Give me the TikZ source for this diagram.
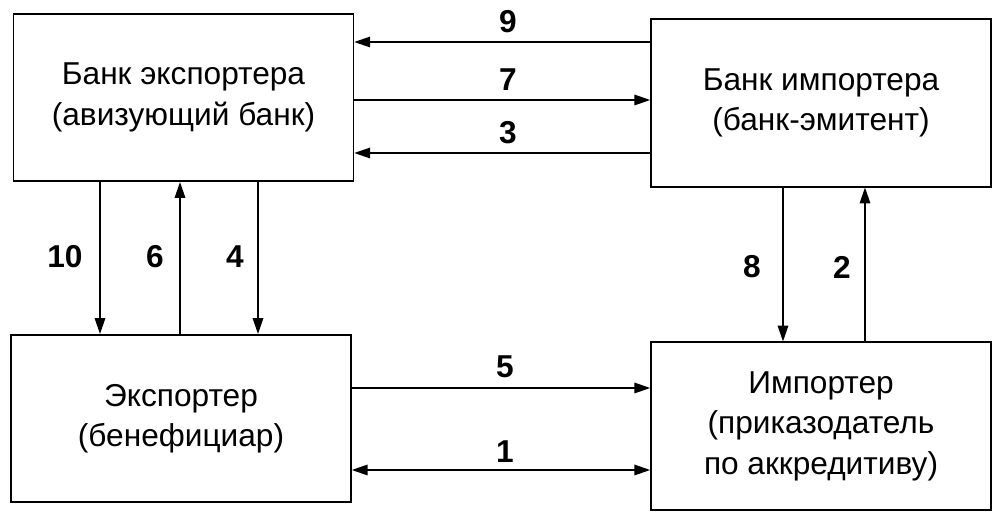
\documentclass[tikz,border=0pt]{standalone}
\usepackage{fontspec}
\setmainfont{Liberation Sans}
\usetikzlibrary{arrows.meta}
\begin{document}
\begin{tikzpicture}
	\tikzset{box/.style={draw, line width=0.9pt, minimum width=6.8cm, minimum height=3.35cm, align=center, font=\fontsize{18}{23}\selectfont},
		arr/.style={line width=0.8pt, -{Triangle[length=9pt,width=6pt]}},
		num/.style={font=\fontsize{18}{20}\selectfont\bfseries}}
	\useasboundingbox (0,0) rectangle (20.08,10.56);
	
	% banks
	\node[box] (tl) at (3.67,8.61) {Банк экспортера\\(авизующий банк)};
	\node[box] (tr) at (16.42,8.5) {Банк импортера\\(банк-эмитент)};
	% clients
	\node[box] (bl) at (3.62,2.19) {Экспортер\\(бенефициар)};
	\node[box] (br) at (16.42,2.04) {Импортер\\(приказодатель\\по аккредитиву)};
	
	\draw[arr] (tr.west |- 0,9.72) -- (tl.east |- 0,9.72);
	\draw[arr] (tl.east |- 0,8.56) -- (tr.west |- 0,8.56);
	\draw[arr] (tr.west |- 0,7.5) -- (tl.east |- 0,7.5);
	\draw[arr] (tl.south -| 2,0) -- (bl.north -| 2,0);
	\draw[arr] (bl.north -| 3.6,0) -- (tl.south -| 3.6,0);
	\draw[arr] (tl.south -| 5.16,0) -- (bl.north -| 5.16,0);
	\draw[arr] (tr.south -| 15.66,0) -- (br.north -| 15.66,0);
	\draw[arr] (br.north -| 17.3,0) -- (tr.south -| 17.3,0);
	\draw[arr] (bl.east |- 0,2.8) -- (br.west |- 0,2.8);
	\draw[arr, {Triangle[length=9pt,width=6pt]}-{Triangle[length=9pt,width=6pt]}] (bl.east |- 0,1.16) -- (br.west |- 0,1.16);
	
	\node[num] (n9) at (10.16,10.12) {9};
	\node[num] (n7) at (10.16,8.96) {7};
	\node[num] (n3) at (10.16,7.9) {3};
	\node[num] (n10) at (1.3,5.42) {10};
	\node[num] (n6) at (3.1,5.42) {6};
	\node[num] (n4) at (4.7,5.42) {4};
	\node[num] (n8) at (15.04,5.22) {8};
	\node[num] (n2) at (16.84,5.22) {2};
	\node[num] (n5) at (10.1,3.22) {5};
	\node[num] (n1) at (10.1,1.52) {1};
\end{tikzpicture}
\end{document}
